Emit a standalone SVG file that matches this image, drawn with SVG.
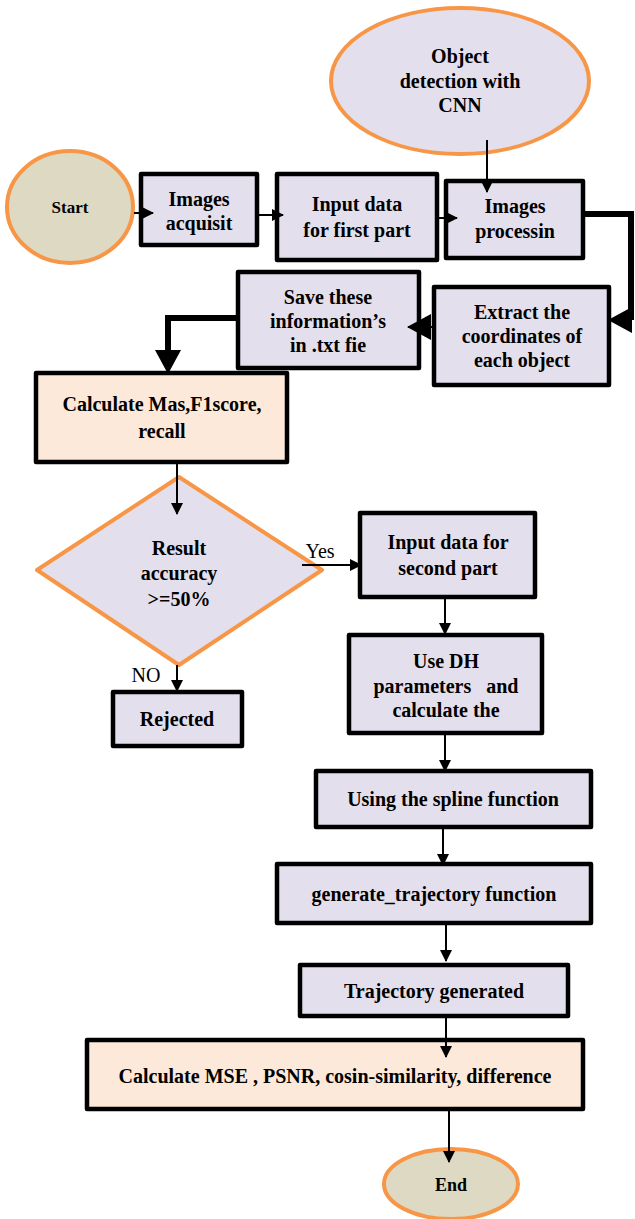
<svg xmlns="http://www.w3.org/2000/svg" width="635" height="1219" viewBox="0 0 635 1219">
<defs>
<style>
.box{fill:#e4dfec;stroke:#000;stroke-width:4.5;stroke-linejoin:round}
.peach{fill:#fde9d9;stroke:#000;stroke-width:4.5;stroke-linejoin:round}
.term{fill:#ddd9c3;stroke:#f79646;stroke-width:4}
.oval{fill:#e4dfec;stroke:#f79646;stroke-width:4}
.ln{stroke:#000;stroke-width:2;fill:none}
.thick{stroke:#000;stroke-width:6;fill:none;stroke-linejoin:miter}
</style>
<marker id="ah" markerWidth="12" markerHeight="12" refX="11" refY="6" orient="auto" markerUnits="userSpaceOnUse">
<path d="M0,0 L12,6 L0,12 Z" fill="#000"/>
</marker>
<marker id="ahb" markerWidth="24" markerHeight="26" refX="23" refY="13" orient="auto" markerUnits="userSpaceOnUse">
<path d="M0,0 L24,13 L0,26 Z" fill="#000"/>
</marker>
</defs>

<g id="object-detection">
<ellipse class="oval" cx="460" cy="81" rx="129" ry="73"/>
<text x="460" y="63" font-family="Liberation Serif" font-size="20" font-weight="bold" text-anchor="middle">Object</text>
<text x="460" y="88" font-family="Liberation Serif" font-size="20" font-weight="bold" text-anchor="middle">detection with</text>
<text x="460" y="112" font-family="Liberation Serif" font-size="20" font-weight="bold" text-anchor="middle">CNN</text>
</g>

<g id="start">
<ellipse class="term" cx="70" cy="207" rx="63" ry="56"/>
<text x="70" y="213" font-family="Liberation Serif" font-size="17" font-weight="bold" text-anchor="middle">Start</text>
</g>

<g id="images-acquisit">
<rect class="box" x="141" y="174" width="116" height="71"/>
<text x="199" y="206" font-family="Liberation Serif" font-size="20" font-weight="bold" text-anchor="middle">Images</text>
<text x="199" y="230" font-family="Liberation Serif" font-size="20" font-weight="bold" text-anchor="middle">acquisit</text>
</g>

<g id="input-first">
<rect class="box" x="277" y="174" width="160" height="86"/>
<text x="357" y="211" font-family="Liberation Serif" font-size="20" font-weight="bold" text-anchor="middle">Input data</text>
<text x="357" y="237" font-family="Liberation Serif" font-size="20" font-weight="bold" text-anchor="middle">for first part</text>
</g>

<g id="images-processin">
<rect class="box" x="446" y="181" width="137" height="77"/>
<text x="515" y="213" font-family="Liberation Serif" font-size="20" font-weight="bold" text-anchor="middle">Images</text>
<text x="515" y="238" font-family="Liberation Serif" font-size="20" font-weight="bold" text-anchor="middle">processin</text>
</g>

<g id="extract">
<rect class="box" x="434" y="287" width="175" height="98"/>
<text x="522" y="319" font-family="Liberation Serif" font-size="20" font-weight="bold" text-anchor="middle">Extract the</text>
<text x="522" y="343" font-family="Liberation Serif" font-size="20" font-weight="bold" text-anchor="middle">coordinates of</text>
<text x="522" y="367" font-family="Liberation Serif" font-size="20" font-weight="bold" text-anchor="middle">each object</text>
</g>

<g id="save">
<rect class="box" x="238" y="272" width="181" height="96"/>
<text x="328" y="304" font-family="Liberation Serif" font-size="20" font-weight="bold" text-anchor="middle">Save these</text>
<text x="328" y="328" font-family="Liberation Serif" font-size="20" font-weight="bold" text-anchor="middle">information’s</text>
<text x="328" y="352" font-family="Liberation Serif" font-size="20" font-weight="bold" text-anchor="middle">in .txt fie</text>
</g>

<g id="calc-map">
<rect class="peach" x="36" y="373" width="251" height="89"/>
<text x="162" y="411" font-family="Liberation Serif" font-size="20" font-weight="bold" text-anchor="middle">Calculate Mas,F1score,</text>
<text x="162" y="438" font-family="Liberation Serif" font-size="20" font-weight="bold" text-anchor="middle">recall</text>
</g>

<g id="decision">
<polygon points="179,477 322,570 179,665 37,570" fill="#e4dfec" stroke="#f79646" stroke-width="4" stroke-linejoin="round"/>
<text x="179" y="555" font-family="Liberation Serif" font-size="20" font-weight="bold" text-anchor="middle">Result</text>
<text x="179" y="580" font-family="Liberation Serif" font-size="20" font-weight="bold" text-anchor="middle">accuracy</text>
<text x="179" y="606" font-family="Liberation Serif" font-size="20" font-weight="bold" text-anchor="middle">&gt;=50%</text>
</g>

<g id="rejected">
<rect class="box" x="113" y="692" width="129" height="54"/>
<text x="177" y="726" font-family="Liberation Serif" font-size="20" font-weight="bold" text-anchor="middle">Rejected</text>
</g>

<g id="input-second">
<rect class="box" x="360" y="513" width="175" height="84"/>
<text x="448" y="549" font-family="Liberation Serif" font-size="20" font-weight="bold" text-anchor="middle">Input data for</text>
<text x="448" y="575" font-family="Liberation Serif" font-size="20" font-weight="bold" text-anchor="middle">second part</text>
</g>

<g id="dh">
<rect class="box" x="349" y="635" width="193" height="98"/>
<text x="446" y="668" font-family="Liberation Serif" font-size="20" font-weight="bold" text-anchor="middle">Use DH</text>
<text x="446" y="693" font-family="Liberation Serif" font-size="20" font-weight="bold" text-anchor="middle" xml:space="preserve">parameters   and</text>
<text x="446" y="717" font-family="Liberation Serif" font-size="20" font-weight="bold" text-anchor="middle">calculate the</text>
</g>

<g id="spline">
<rect class="box" x="316" y="771" width="275" height="56"/>
<text x="453" y="806" font-family="Liberation Serif" font-size="20" font-weight="bold" text-anchor="middle">Using the spline function</text>
</g>

<g id="gen-traj">
<rect class="box" x="277" y="864" width="314" height="59"/>
<text x="434" y="901" font-family="Liberation Serif" font-size="20" font-weight="bold" text-anchor="middle">generate_trajectory function</text>
</g>

<g id="traj-gen">
<rect class="box" x="300" y="965" width="268" height="51"/>
<text x="434" y="998" font-family="Liberation Serif" font-size="20" font-weight="bold" text-anchor="middle">Trajectory generated</text>
</g>

<g id="calc-mse">
<rect class="peach" x="87" y="1040" width="496" height="69"/>
<text x="335" y="1083" font-family="Liberation Serif" font-size="20" font-weight="bold" text-anchor="middle">Calculate MSE , PSNR, cosin-similarity, difference</text>
</g>

<g id="end">
<ellipse class="term" cx="451" cy="1184" rx="67" ry="35"/>
<text x="451" y="1191" font-family="Liberation Serif" font-size="18" font-weight="bold" text-anchor="middle">End</text>
</g>

<g id="connectors">
<line class="ln" x1="487" y1="140" x2="487" y2="192" marker-end="url(#ah)"/>
<line class="ln" x1="134" y1="213" x2="153" y2="213" marker-end="url(#ah)"/>
<line class="ln" x1="259" y1="215" x2="283" y2="215" marker-end="url(#ah)"/>
<line class="ln" x1="439" y1="218" x2="457" y2="218" marker-end="url(#ah)"/>
<polyline class="thick" points="585,214 631,214 631,320"/>
<line class="ln" x1="631" y1="320" x2="609" y2="320" marker-end="url(#ahb)"/>
<line class="ln" x1="432" y1="327" x2="408" y2="327" stroke-width="4" marker-end="url(#ahb)"/>
<polyline class="thick" points="236,318 168,318 168,352"/>
<line class="ln" x1="168" y1="345" x2="168" y2="373" marker-end="url(#ahb)"/>
<line class="ln" x1="177" y1="464" x2="177" y2="514" marker-end="url(#ah)"/>
<line class="ln" x1="302" y1="565" x2="361" y2="565" marker-end="url(#ah)"/>
<line class="ln" x1="177" y1="665" x2="177" y2="691" marker-end="url(#ah)"/>
<line class="ln" x1="445" y1="599" x2="445" y2="634" marker-end="url(#ah)"/>
<line class="ln" x1="445" y1="735" x2="445" y2="771" marker-end="url(#ah)"/>
<line class="ln" x1="443" y1="829" x2="443" y2="865" marker-end="url(#ah)"/>
<line class="ln" x1="446" y1="925" x2="446" y2="961" marker-end="url(#ah)"/>
<line class="ln" x1="446" y1="1018" x2="446" y2="1057" marker-end="url(#ah)"/>
<line class="ln" x1="449" y1="1111" x2="449" y2="1162" marker-end="url(#ah)"/>
<text x="320" y="558" font-family="Liberation Serif" font-size="20" text-anchor="middle">Yes</text>
<text x="146" y="682" font-family="Liberation Serif" font-size="20" text-anchor="middle">NO</text>
</g>
</svg>
